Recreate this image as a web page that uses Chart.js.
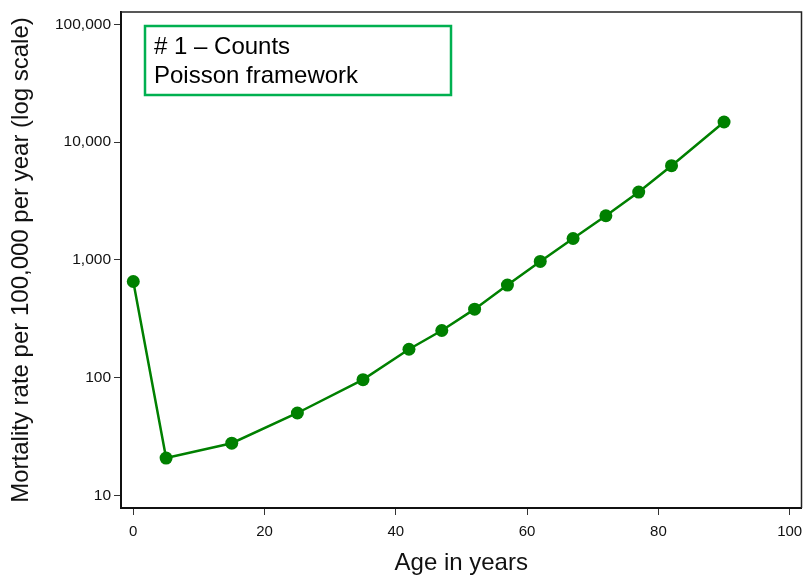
<!DOCTYPE html>
<html>
<head>
<meta charset="utf-8">
<script src="https://cdn.jsdelivr.net/npm/chart.js@4"></script>
<style>
  html, body { margin: 0; padding: 0; background: #fff; }
  #box { width: 808px; height: 578px; }
</style>
</head>
<body>
<div id="box"><canvas id="myChart" width="808" height="578"></canvas></div>
<script>
// données
const ages = [0, 5, 15, 25, 35, 42, 47, 52, 57, 62, 67, 72, 77, 82, 90];
const rates = [654, 20.7, 27.7, 50, 96, 174, 251, 381, 610, 968, 1517, 2366, 3758, 6295, 14800];
const yTicks = [10, 100, 1000, 10000, 100000];
const xTicks = [0, 20, 40, 60, 80, 100];
const boxLines = ["# 1 \u2013 Counts", "Poisson framework"];

const green = "#008000";
const fontFamily = "'Liberation Sans', Arial, sans-serif";

// cadre du haut / droite + encadré texte
const extras = {
    id: "extras",
    afterDraw(chart) {
        const ctx = chart.ctx;
        const a = chart.chartArea;
        ctx.save();
        ctx.strokeStyle = "#222";
        ctx.lineWidth = 1.5;
        ctx.beginPath();
        ctx.moveTo(a.left, a.top);
        ctx.lineTo(a.right, a.top);
        ctx.lineTo(a.right, a.bottom);
        ctx.stroke();

        ctx.strokeStyle = "#00b050";
        ctx.lineWidth = 2.5;
        ctx.strokeRect(145, 26, 306, 69);
        ctx.fillStyle = "#000";
        ctx.font = "24px " + fontFamily;
        ctx.textBaseline = "alphabetic";
        ctx.fillText(boxLines[0], 154, 54);
        ctx.fillText(boxLines[1], 154, 83);
        ctx.restore();
    }
};

let myChart = new Chart(document.getElementById("myChart").getContext("2d"), {
    type: "line",
    data: {
        labels: ages,
        datasets: [{
            data: ages.map((a, i) => ({ x: a, y: rates[i] })),
            borderColor: green,
            backgroundColor: green,
            borderWidth: 2.5,
            pointRadius: 6.5,
            pointHoverRadius: 6.5,
            pointBackgroundColor: green,
            pointBorderWidth: 0,
            tension: 0,
        }],
    },
    options: {
        responsive: false,
        animation: false,
        maintainAspectRatio: false,
        layout: { padding: { top: 12, right: 5, left: 0, bottom: 0 } },
        plugins: {
            legend: { display: false },
            tooltip: { enabled: false },
        },
        scales: {
            x: {
                type: "linear",
                min: -1.87,
                max: 101.8,
                afterBuildTicks: s => { s.ticks = xTicks.map(v => ({ value: v })); },
                afterFit: s => { s.height = 70; s.paddingRight = 0; s.paddingLeft = 0; },
                grid: { drawOnChartArea: false, drawTicks: true, tickLength: 7, color: "#333", lineWidth: 1 },
                border: { display: true, color: "#111", width: 2 },
                ticks: { color: "#111", font: { family: fontFamily, size: 15 }, padding: 8, maxRotation: 0 },
                title: {
                    display: true,
                    text: "Age in years",
                    color: "#111",
                    font: { family: fontFamily, size: 24 },
                    padding: { top: 0, bottom: 0 },
                },
            },
            y: {
                type: "logarithmic",
                min: 7.8,
                max: 127200,
                afterBuildTicks: s => { s.ticks = yTicks.map(v => ({ value: v })); },
                afterFit: s => { s.width = 121; s.paddingTop = 0; s.paddingBottom = 0; },
                grid: { drawOnChartArea: false, drawTicks: true, tickLength: 7, color: "#333", lineWidth: 1 },
                border: { display: true, color: "#111", width: 2 },
                ticks: {
                    color: "#111",
                    font: { family: fontFamily, size: 15.5 },
                    padding: 3,
                    callback: v => v.toLocaleString("en-US"),
                },
                title: {
                    display: true,
                    text: "Mortality rate per 100,000 per year (log scale)",
                    color: "#111",
                    font: { family: fontFamily, size: 24 },
                    padding: { top: 7, bottom: 0 },
                },
            },
        },
    },
    plugins: [extras],
});
</script>
</body>
</html>
